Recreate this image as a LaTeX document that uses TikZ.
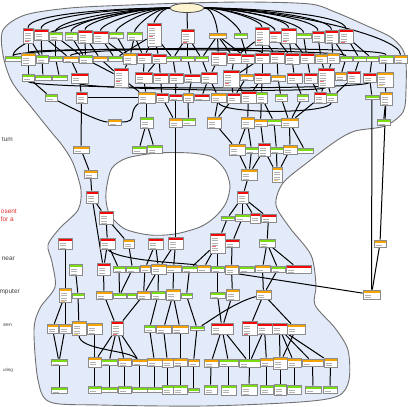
\documentclass[tikz,border=0pt]{standalone}
\usepackage{fontspec}
\setsansfont{Liberation Sans}
\usepackage{tikz}
\usetikzlibrary{fit,shapes.geometric}
\pgfdeclarelayer{bg}
\pgfsetlayers{bg,main}
\definecolor{hdred}{HTML}{F00A0A}
\definecolor{hdorg}{HTML}{F5A300}
\definecolor{hdgrn}{HTML}{7ADD12}
\definecolor{blobfill}{HTML}{E3EBFA}
\definecolor{blobline}{HTML}{707070}
\definecolor{rootfill}{HTML}{FFF4D0}
\definecolor{txtred}{HTML}{E83030}
% one box: name, x1, y1, x2, y2, header colour
\def\NB#1#2#3#4#5#6{\node[nb=#6,fit={(#2,#3) (#4,#5)}] (#1) {};}

\begin{document}
\begin{tikzpicture}[x=1pt,y=-1pt,
  nb/.style={draw=black!45,fill=white,line width=0.7pt,inner sep=0pt,
    path picture={
      \fill[#1] (path picture bounding box.north west) rectangle ([yshift=-3pt]path picture bounding box.north east);
      \foreach \k in {5,7.5,...,20}
        \draw[black!30,line width=0.5pt] ([shift={(1.5pt,-\k pt)}]path picture bounding box.north west) -- ++(6pt,0pt);
      \draw[#1!60,line width=0.5pt] ([shift={(1.5pt,-13.5pt)}]path picture bounding box.north west) -- ++(4pt,0pt);
    }},
  lnk/.style={draw=black,line width=1pt},
  fanl/.style={out=180,in=90,out looseness=0.9,in looseness=0.25},
  fanr/.style={out=0,in=90,out looseness=0.9,in looseness=0.25},
  lbl/.style={font=\sffamily\fontsize{6.5}{7}\selectfont,text=black!75,inner sep=0pt,anchor=east},
  ]
\useasboundingbox (0,0) rectangle (408,407);

% top
\node[ellipse,draw=black!70,fill=rootfill,line width=0.8pt,minimum width=34pt,minimum height=9pt,inner sep=0pt] (root) at (187,8) {};
\NB{a1}{23}{28}{33}{43}{hdred} \NB{a2}{34}{29}{48}{40}{hdred} \NB{a3}{49}{32}{62}{40}{hdgrn}
\NB{a4}{65}{32}{77}{40}{hdgrn} \NB{a5}{78}{30}{92}{43}{hdred} \NB{a6}{93}{31}{108}{43}{hdred}
\NB{a7}{109}{32}{123}{38}{hdgrn} \NB{a8}{127}{32}{142}{40}{hdgrn} \NB{a9}{147}{23}{161}{46}{hdred}
\NB{a10}{181}{29}{194}{43}{hdred} \NB{a11}{209}{33}{226}{38}{hdorg} \NB{a12}{234}{33}{247}{38}{hdgrn}
\NB{a13}{255}{27}{269}{45}{hdred} \NB{a14}{269}{31}{281}{42}{hdred} \NB{a15}{281}{28}{296}{43}{hdred}
\NB{a16}{296}{33}{311}{38}{hdgrn} \NB{a17}{312}{31}{324}{42}{hdred} \NB{a18}{325}{30}{338}{43}{hdred}
\NB{a19}{339}{29}{353}{43}{hdred}

\NB{b1}{5}{56}{21}{61}{hdgrn} \NB{b2}{21}{53}{35}{65}{hdorg} \NB{b3}{36}{55}{48}{63}{hdgrn}
\NB{b4}{49}{56}{62}{61}{hdgrn} \NB{b5}{63}{56}{78}{62}{hdorg} \NB{b6}{79}{55}{92}{63}{hdgrn}
\NB{b7}{93}{56}{107}{61}{hdorg} \NB{b8}{108}{56}{122}{61}{hdgrn} \NB{b9}{123}{53}{136}{64}{hdorg}
\NB{b10}{137}{53}{151}{63}{hdred} \NB{b11}{152}{54}{166}{63}{hdred} \NB{b12}{166}{56}{180}{61}{hdgrn}
\NB{b13}{181}{56}{194}{61}{hdgrn} \NB{b14}{195}{56}{208}{61}{hdgrn} \NB{b15}{211}{52}{226}{65}{hdred}
\NB{b16}{227}{53}{241}{63}{hdred} \NB{b17}{241}{54}{254}{63}{hdred} \NB{b18}{255}{53}{269}{63}{hdred}
\NB{b19}{270}{52}{284}{63}{hdred} \NB{b20}{285}{53}{299}{64}{hdred} \NB{b21}{300}{53}{314}{63}{hdred}
\NB{b22}{315}{54}{327}{63}{hdorg} \NB{b23}{327}{53}{339}{63}{hdorg} \NB{b24}{340}{56}{352}{61}{hdgrn}
\NB{b25}{353}{56}{366}{61}{hdgrn} \NB{b26}{366}{56}{378}{61}{hdgrn} \NB{b27}{379}{55}{393}{63}{hdgrn}
\NB{b28}{394}{55}{407}{63}{hdorg}

\NB{c1}{22}{74}{34}{81}{hdgrn} \NB{c2}{35}{75}{51}{80}{hdgrn} \NB{c3}{52}{75}{67}{80}{hdgrn}
\NB{c4}{71}{73}{88}{83}{hdred} \NB{c5}{114}{68}{128}{87}{hdred} \NB{c6}{135}{72}{152}{83}{hdred}
\NB{c7}{153}{73}{168}{83}{hdred} \NB{c8}{169}{73}{183}{83}{hdred} \NB{c9}{184}{74}{200}{82}{hdred}
\NB{c10}{201}{72}{217}{83}{hdred} \NB{c11}{223}{70}{239}{87}{hdred} \NB{c12}{240}{74}{253}{80}{hdorg}
\NB{c13}{254}{73}{270}{83}{hdred} \NB{c14}{271}{75}{285}{81}{hdorg} \NB{c15}{287}{73}{302}{83}{hdred}
\NB{c16}{304}{73}{317}{83}{hdred} \NB{c17}{318}{68}{334}{87}{hdred} \NB{c18}{335}{72}{346}{80}{hdorg}
\NB{c19}{347}{71}{360}{83}{hdred} \NB{c20}{363}{73}{376}{82}{hdred} \NB{c21}{377}{72}{393}{87}{hdorg}

\NB{d1}{45}{94}{57}{101}{hdgrn} \NB{d2}{76}{92}{87}{103}{hdred} \NB{d3}{138}{92}{155}{103}{hdorg}
\NB{d4}{156}{93}{168}{102}{hdred} \NB{d5}{169}{94}{182}{100}{hdred} \NB{d6}{183}{93}{193}{102}{hdorg}
\NB{d7}{194}{94}{209}{100}{hdred} \NB{d8}{211}{93}{226}{102}{hdorg} \NB{d9}{227}{93}{240}{103}{hdred}
\NB{d10}{241}{91}{256}{103}{hdred} \NB{d11}{256}{92}{267}{103}{hdgrn} \NB{d12}{275}{94}{287}{101}{hdgrn}
\NB{d13}{297}{94}{308}{101}{hdgrn} \NB{d14}{314}{92}{326}{103}{hdred} \NB{d15}{326}{93}{337}{102}{hdgrn}
\NB{d16}{365}{95}{379}{99}{hdgrn} \NB{d17}{380}{92}{392}{105}{hdorg}

\NB{e1}{108}{119}{121}{125}{hdorg} \NB{e2}{140}{117}{153}{128}{hdgrn} \NB{e3}{169}{118}{182}{127}{hdorg}
\NB{e4}{182}{118}{195}{125}{hdgrn} \NB{e5}{207}{117}{221}{128}{hdorg} \NB{e6}{241}{117}{254}{128}{hdorg}
\NB{e7}{254}{119}{267}{126}{hdorg} \NB{e8}{267}{119}{281}{125}{hdgrn} \NB{e9}{281}{118}{298}{127}{hdorg}
\NB{e10}{377}{119}{390}{125}{hdgrn}

\NB{f1}{73}{146}{89}{153}{hdorg} \NB{f2}{132}{146}{146}{153}{hdgrn} \NB{f3}{147}{145}{162}{153}{hdgrn}
\NB{f4}{229}{144}{245}{155}{hdorg} \NB{f5}{245}{147}{258}{153}{hdgrn} \NB{f6}{258}{143}{270}{156}{hdred}
\NB{f7}{270}{147}{283}{153}{hdgrn} \NB{f8}{283}{145}{297}{154}{hdorg} \NB{f9}{297}{148}{313}{153}{hdgrn}

\NB{g1}{84}{170}{97}{178}{hdorg} \NB{g2}{241}{169}{257}{180}{hdorg} \NB{g3}{272}{167}{282}{182}{hdorg}
\NB{g4}{86}{191}{98}{203}{hdred} \NB{g5}{237}{191}{248}{203}{hdred}
\NB{h1}{99}{211}{113}{224}{hdred} \NB{h2}{221}{216}{234}{220}{hdgrn} \NB{h3}{235}{214}{250}{221}{hdgrn}
\NB{h4}{250}{213}{260}{223}{hdred} \NB{h5}{261}{214}{276}{222}{hdred}

\NB{i1}{58}{238}{72}{249}{hdred} \NB{i2}{100}{238}{115}{249}{hdred} \NB{i3}{123}{239}{134}{248}{hdorg}
\NB{i4}{148}{238}{163}{249}{hdred} \NB{i5}{168}{237}{183}{249}{hdred} \NB{i6}{210}{233}{225}{253}{hdred}
\NB{i7}{225}{239}{239}{247}{hdred} \NB{i8}{259}{239}{275}{247}{hdgrn} \NB{i9}{374}{240}{386}{247}{hdorg}

\NB{j1}{69}{264}{82}{275}{hdgrn} \NB{j2}{97}{263}{110}{275}{hdred} \NB{j3}{113}{266}{125}{272}{hdgrn}
\NB{j4}{126}{266}{139}{272}{hdgrn} \NB{j5}{140}{265}{150}{272}{hdorg} \NB{j6}{151}{264}{166}{274}{hdorg}
\NB{j7}{166}{265}{181}{272}{hdorg} \NB{j8}{182}{266}{197}{272}{hdgrn} \NB{j9}{197}{265}{210}{272}{hdorg}
\NB{j10}{211}{266}{224}{272}{hdgrn} \NB{j11}{225}{265}{238}{274}{hdorg} \NB{j12}{239}{266}{254}{272}{hdgrn}
\NB{j13}{255}{265}{270}{272}{hdorg} \NB{j14}{271}{266}{285}{272}{hdgrn} \NB{j15}{286}{265}{311}{273}{hdred}

\NB{k1}{59}{288}{71}{302}{hdorg} \NB{k2}{72}{293}{84}{298}{hdgrn} \NB{k3}{96}{291}{112}{299}{hdorg}
\NB{k4}{113}{293}{126}{298}{hdgrn} \NB{k5}{127}{293}{136}{298}{hdgrn} \NB{k6}{137}{291}{150}{299}{hdorg}
\NB{k7}{151}{291}{165}{299}{hdgrn} \NB{k8}{166}{289}{180}{300}{hdorg} \NB{k9}{181}{293}{192}{298}{hdgrn}
\NB{k10}{210}{292}{225}{298}{hdgrn} \NB{k11}{226}{289}{239}{300}{hdorg} \NB{k12}{256}{290}{271}{299}{hdorg}
\NB{k13}{363}{290}{380}{299}{hdorg}

\NB{l1}{47}{324}{58}{333}{hdorg} \NB{l2}{59}{324}{71}{333}{hdorg} \NB{l3}{72}{321}{86}{335}{hdorg}
\NB{l4}{87}{323}{102}{334}{hdorg} \NB{l5}{111}{321}{123}{335}{hdred} \NB{l6}{144}{325}{155}{332}{hdgrn}
\NB{l7}{156}{325}{171}{333}{hdorg} \NB{l8}{172}{325}{188}{333}{hdorg} \NB{l9}{190}{326}{204}{330}{hdgrn}
\NB{l10}{211}{323}{233}{334}{hdred} \NB{l11}{242}{321}{257}{335}{hdred} \NB{l12}{257}{323}{272}{334}{hdred}
\NB{l13}{272}{323}{287}{334}{hdred} \NB{l14}{287}{324}{305}{334}{hdorg}

\NB{m1}{51}{359}{67}{365}{hdgrn} \NB{m2}{88}{357}{101}{367}{hdorg} \NB{m3}{101}{359}{117}{365}{hdgrn}
\NB{m4}{118}{358}{131}{366}{hdorg} \NB{m5}{132}{359}{147}{365}{hdorg} \NB{m6}{147}{358}{162}{366}{hdorg}
\NB{m7}{162}{358}{173}{367}{hdorg} \NB{m8}{173}{358}{187}{366}{hdorg} \NB{m9}{188}{359}{199}{366}{hdorg}
\NB{m10}{204}{359}{218}{367}{hdorg} \NB{m11}{219}{359}{238}{366}{hdgrn} \NB{m12}{239}{359}{260}{367}{hdgrn}
\NB{m13}{260}{358}{273}{366}{hdorg} \NB{m14}{273}{357}{287}{369}{hdorg} \NB{m15}{287}{358}{301}{367}{hdorg}
\NB{m16}{302}{359}{323}{366}{hdorg} \NB{m17}{324}{358}{337}{367}{hdorg}

\NB{n1}{51}{387}{67}{393}{hdgrn} \NB{n2}{88}{386}{101}{393}{hdgrn} \NB{n3}{101}{387}{117}{392}{hdgrn}
\NB{n4}{118}{386}{131}{393}{hdgrn} \NB{n5}{132}{387}{147}{392}{hdgrn} \NB{n6}{147}{387}{162}{392}{hdgrn}
\NB{n7}{162}{385}{173}{394}{hdgrn} \NB{n8}{173}{385}{187}{394}{hdgrn} \NB{n9}{188}{388}{199}{392}{hdgrn}
\NB{n10}{204}{385}{217}{394}{hdgrn} \NB{n11}{221}{385}{236}{395}{hdgrn} \NB{n12}{241}{384}{257}{395}{hdgrn}
\NB{n13}{260}{385}{273}{394}{hdgrn} \NB{n14}{274}{384}{286}{395}{hdgrn} \NB{n15}{287}{385}{301}{394}{hdgrn}
\NB{n16}{305}{386}{321}{393}{hdgrn} \NB{n17}{323}{386}{337}{393}{hdgrn}

% side labels
\node[lbl] (t1) at (13,139) {tum};
\node[lbl,text=txtred] (t2) at (17,211) {osent};
\node[lbl,text=txtred] (t3) at (14,219) {for a};
\node[lbl] (t4) at (15,259) {near};
\node[lbl] (t5) at (20,292) {mputer};
\node[lbl,font=\sffamily\fontsize{5}{6}\selectfont] (t6) at (12,325) {een};
\node[lbl,font=\sffamily\fontsize{4.5}{5}\selectfont] (t7) at (13,370) {uting};

\begin{pgfonlayer}{bg}
% region with its hole
\path[fill=blobfill,draw=blobline,line width=0.9pt,even odd rule]
  plot[smooth cycle] coordinates {(3,30) (25,15) (70,8) (130,5) (187,3) (250,2) (310,4) (335,12) (365,25)
    (392,38) (405,55) (406,90) (403,112) (385,126) (355,131) (336,141) (308,162) (283,183) (276,205)
    (290,228) (311,255) (316,285) (315,305) (335,328) (348,350) (349,380) (338,396) (300,402) (204,406)
    (100,405) (50,402) (38,380) (34,330) (40,308) (55,287) (52,262) (48,245) (60,228) (78,210) (81,190)
    (73,163) (62,145) (52,133) (32,108) (12,82) (3,55)}
  plot[smooth cycle] coordinates {(107,185) (112,168) (127,158) (157,153) (190,153) (212,157) (225,170)
    (230,186) (226,203) (215,217) (200,227) (175,234) (150,235) (125,229) (110,215) (106,200)};

\foreach \n in {b1,a1,a2,a3,a4,a5,a6,a7,a8,a9}
  \draw[lnk] (root) to[fanl] (\n);
\draw[lnk] (root) -- (a10);
\foreach \n in {a11,a12,a13,a14,a15,a16,a17,a18,a19,b28}
  \draw[lnk] (root) to[fanr] (\n);

\foreach \a/\b in {a1/b2,a1/b3,a2/b3,a2/b5,a3/b4,a3/b6,a4/b6,a5/b6,a5/b7,a6/b8,a6/b9,a7/b9,a8/b9,
    a8/b10,a9/b10,a9/b11,a9/b12,a9/b8,a10/b12,a10/b13,a10/b14,a11/b15,a11/b16,a11/b17,a11/b14,
    a12/b17,a13/b18,a13/b19,a13/b16,a14/b20,a15/b20,a15/b21,a16/b21,a17/b22,a18/b23,a18/b24,
    a19/b25,a19/b26,
    b2/c1,b3/c2,b4/c3,b5/c4,b6/c5,b7/c5,b9/c5,b10/c6,b11/c7,b12/c8,b13/c9,b14/c10,b15/c10,b16/c11,
    b17/c12,b18/c13,b19/c14,b20/c15,b21/c16,b22/c17,b23/c17,b24/c18,b25/c19,b26/c20,b27/c21,
    b11/c6,b18/c11,
    c1/d1,c4/d2,c5/d3,c6/d3,c7/d4,c8/d5,c9/d6,c10/d7,c10/d8,c11/d9,c11/d10,c13/d10,c13/d11,
    c14/d12,c15/d13,c16/d14,c17/d14,c17/d15,c19/d15,c20/d16,c21/d17,c12/d9,
    d3/e2,d4/e3,d5/e3,d6/e4,d8/e5,d9/e5,d10/e6,d11/e7,d11/e8,d12/e9,d13/e9,d17/e10,d14/e9,
    d2/f1,e2/f2,e2/f3,e5/f4,e6/f4,e6/f5,e7/f6,e8/f7,e9/f8,e9/f9,
    f1/g1,g1/g4,g4/h1,g4/j2,h1/i2,h1/i3,f4/g2,f5/g2,f6/g2,f6/g3,f7/g3,f8/g3,g2/g5,
    g5/h2,g5/h3,g5/h4,g5/h5,e3/i5,h2/i6,h3/i7,h5/i8,d17/i9,i9/k13,d16/k13,
    i1/k1,i2/j2,i2/j3,i3/j4,i4/j5,i4/j6,i5/j6,i5/j7,i6/j9,i6/j10,i7/j11,i8/j13,i8/j14,i8/j15,i6/j8,
    j1/k2,j2/k3,j4/k4,j5/k6,j6/k6,j6/k7,j7/k8,j8/k9,j10/k10,j11/k11,j13/k12,j14/k12,j9/k13,j3/k4,
    k1/l1,k1/l2,k2/l3,k3/l5,k6/l5,k7/l6,k8/l7,k8/l8,k9/l9,k10/l10,k11/l10,k12/l14,k12/l11,
    l1/m1,l2/m1,l5/m2,l5/m3,l5/m4,l5/m5,l6/m6,l7/m7,l8/m8,l9/m9,l10/m10,l10/m11,l10/m12,
    l11/m12,l12/m12,l12/m13,l13/m14,l13/m15,l13/m16,l13/m17,l14/m14,l4/m2}
  \draw[lnk] (\a) -- (\b);
\foreach \i in {1,...,17}
  \draw[lnk] (m\i) -- (n\i);

% long runs
\draw[lnk] (b1.north) .. controls +(0,-9) and +(0,-9) .. (b27.north);
\draw[lnk] (b2.north) .. controls +(0,-6) and +(0,-6) .. (b24.north);
\draw[lnk] (b5.north) .. controls +(0,-7) and +(0,-7) .. (b18.north);
\draw[lnk] (c1.south) .. controls +(0,8) and +(0,8) .. (c20.south);
\draw[lnk] (c4.south) .. controls +(0,6) and +(0,6) .. (c17.south);
\draw[lnk] (d8.south) .. controls +(0,12) and +(0,12) .. (d15.south);
\draw[lnk] (d3) .. controls +(-20,15) and +(25,0) .. (e1);
\draw[lnk] (d1) .. controls +(20,10) and +(-15,0) .. (e1);
\draw[lnk] (d2) -- (d3);
\draw[lnk] (i2.south) .. controls +(10,12) and +(-10,-5) .. (j9);
\draw[lnk] (l3.south) .. controls +(0,15) and +(-10,-12) .. (m5);
\draw[lnk] (k12) .. controls +(-30,8) and +(10,-5) .. (l9);
\end{pgfonlayer}
\end{tikzpicture}
\end{document}
